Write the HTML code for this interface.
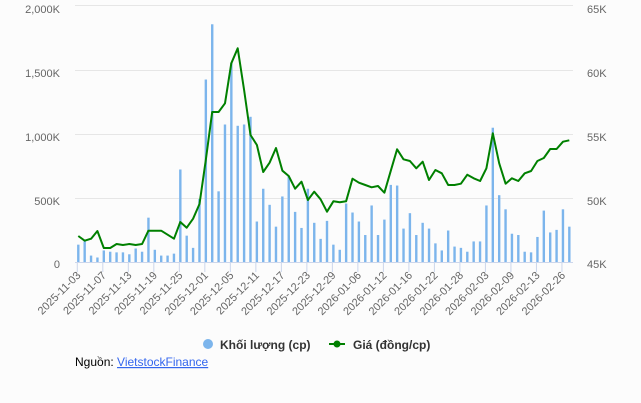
<!DOCTYPE html>
<html><head><meta charset="utf-8"><style>
body{margin:0;background:#fcfcfc;width:641px;height:403px;overflow:hidden;font-family:"Liberation Sans",sans-serif}
</style></head><body>
<svg id="s" width="641" height="403" xmlns="http://www.w3.org/2000/svg" style="position:absolute;left:0;top:0;font-family:'Liberation Sans',sans-serif">
<g stroke="#e6e6e6" stroke-width="1">
<line x1="75" x2="573" y1="5.5" y2="5.5"/><line x1="75" x2="573" y1="70.5" y2="70.5"/><line x1="75" x2="573" y1="134.5" y2="134.5"/><line x1="75" x2="573" y1="198.5" y2="198.5"/>
</g>
<g fill="#666" font-size="11" text-anchor="end">
<text x="60" y="13">2,000K</text><text x="60" y="77">1,500K</text><text x="60" y="141">1,000K</text><text x="60" y="205">500K</text><text x="60" y="268">0</text>
</g>
<g fill="#666" font-size="11">
<text x="587" y="13">65K</text><text x="587" y="77">60K</text><text x="587" y="141">55K</text><text x="587" y="205">50K</text><text x="587" y="268">45K</text>
</g>
<g id="bars" fill="#7cb5ec"></g>
<line x1="75" x2="573" y1="262.5" y2="262.5" stroke="#ccd6eb"/>
<g id="ticks" stroke="#ccd6eb"></g>
<g id="labels" fill="#666" font-size="11"></g>
<polyline id="line" fill="none" stroke="#008000" stroke-width="2" stroke-linejoin="round"/>
<circle cx="208" cy="344" r="5" fill="#7cb5ec"/>
<text x="220" y="349" font-size="12" font-weight="bold" fill="#333">Khối lượng (cp)</text>
<line x1="329" x2="345" y1="344" y2="344" stroke="#008000" stroke-width="2"/>
<circle cx="337" cy="344" r="3.5" fill="#008000"/>
<text x="353" y="349" font-size="12" font-weight="bold" fill="#333">Giá (đồng/cp)</text>
<text x="75" y="366" font-size="12" fill="#000">Nguồn: <tspan fill="#3366ee" text-decoration="underline">VietstockFinance</tspan></text>
</svg>
<script>
var vol=[135,160,50,35,90,80,75,75,60,105,80,345,95,50,50,65,720,205,110,490,1420,1850,550,1070,1550,1060,1070,1130,315,570,445,275,510,670,390,265,570,305,180,320,135,95,455,385,315,210,440,210,330,600,595,260,380,210,305,260,145,90,245,120,110,80,160,160,440,1045,520,410,220,210,80,75,195,400,230,250,410,275];
var py=[708,722,716,693,744,744,732,735,732,735,732,692,692,692,704,716,666,683,656,612,480,336,336,310,190,145,270,405,435,516,488,444,512,528,566,545,600,575,598,635,604,607,604,536,548,555,562,558,578,512,448,478,483,505,485,540,510,520,555,555,551,524,535,543,505,400,490,551,535,543,520,513,483,474,447,447,425,421];
var dates=["2025-11-03","2025-11-07","2025-11-13","2025-11-19","2025-11-25","2025-12-01","2025-12-05","2025-12-11","2025-12-17","2025-12-23","2025-12-29","2026-01-06","2026-01-12","2026-01-16","2026-01-22","2026-01-28","2026-02-03","2026-02-09","2026-02-13","2026-02-26"];
var ns="http://www.w3.org/2000/svg";
function X(i){return 78.3+i*6.377;}
var b=document.getElementById("bars"),pts=[];
vol.forEach(function(v,i){var h=v*0.1285;var r=document.createElementNS(ns,"rect");r.setAttribute("x",X(i)-1.2);r.setAttribute("y",262-h);r.setAttribute("width",2.4);r.setAttribute("height",h);b.appendChild(r);pts.push(X(i).toFixed(1)+","+(py[i]/3).toFixed(1));});
document.getElementById("line").setAttribute("points",pts.join(" "));
var t=document.getElementById("ticks"),l=document.getElementById("labels");
dates.forEach(function(d,k){var x=X(k*4)-1;var ln=document.createElementNS(ns,"line");ln.setAttribute("x1",x);ln.setAttribute("x2",x);ln.setAttribute("y1",262);ln.setAttribute("y2",272);t.appendChild(ln);
var tx=document.createElementNS(ns,"text");tx.setAttribute("text-anchor","end");tx.setAttribute("transform","translate("+(x+4)+",276) rotate(-45)");tx.textContent=d;l.appendChild(tx);});
</script>
</body></html>
